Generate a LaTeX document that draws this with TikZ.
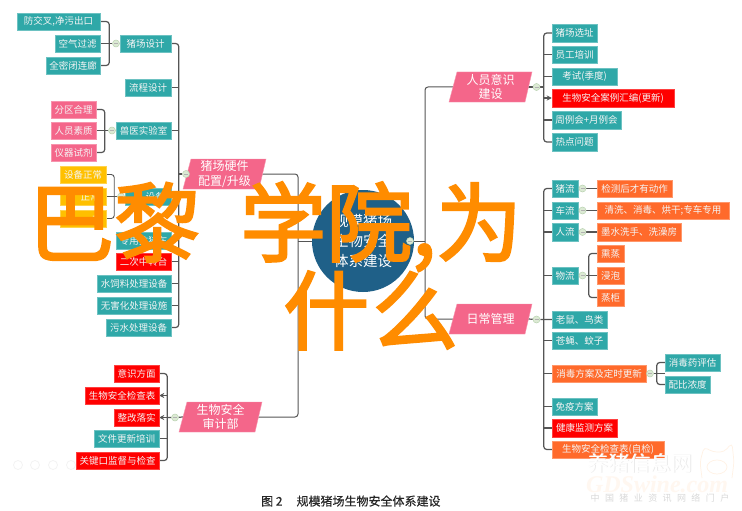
\documentclass[tikz,border=0pt]{standalone}
\usepackage{fontspec}
\setmainfont{Noto Sans CJK SC}
\newfontfamily\bigcjk{Noto Sans CJK SC}[FakeBold=2.5]
\newfontfamily\capcjk{Noto Sans CJK SC}[FakeBold=0.3]
\newfontfamily\wmlatin{Liberation Serif}
\usetikzlibrary{arrows.meta}
\definecolor{tealc}{HTML}{2FA8A8}
\definecolor{pinkc}{HTML}{F4668A}
\definecolor{yelc}{HTML}{FFC000}
\definecolor{redc}{HTML}{FF0000}
\definecolor{oranc}{HTML}{FF6A2B}
\definecolor{navyc}{HTML}{1F6088}
\definecolor{linec}{HTML}{555555}
\definecolor{bigc}{HTML}{FF8C00}
\definecolor{dotfill}{HTML}{DCEAD4}
\definecolor{dotedge}{HTML}{B9D2B0}
\pgfdeclarelayer{bg}
\pgfsetlayers{bg,main}
\tikzset{
  boxbase/.style={inner sep=0pt,font=\fontsize{9.5}{11}\selectfont,text=white!92!gray,line width=0.5pt},
  tealbox/.style={boxbase,fill=tealc,draw=tealc!70!white},
  pinkbox/.style={boxbase,fill=pinkc,draw=pinkc!70!white},
  yelbox/.style={boxbase,fill=yelc,draw=yelc!70!white},
  redbox/.style={boxbase,fill=redc,draw=redc!75!white},
  oranbox/.style={boxbase,fill=oranc,draw=oranc!70!white},
  conn/.style={draw=linec,line width=1.2pt,rounded corners=3pt},
  arrowconn/.style={conn,-{Stealth[length=5pt,width=5pt]}},
  dotnode/.style={circle,minimum size=7pt,inner sep=0pt,fill=dotfill,draw=dotedge,line width=0.5pt,
    path picture={\draw[linec!45!white,line width=0.4pt] (path picture bounding box.west)++(1.5pt,0)--++(4pt,0);}},
  paralabel/.style={inner sep=0pt,minimum width=75pt,minimum height=30pt,align=center,text=white,font=\fontsize{12}{14.5}\selectfont},
  bigtext/.style={inner sep=0pt,text=bigc,font=\bigcjk\fontsize{86}{86}\selectfont},
}
\newcommand\bx[7]{\node[#6,minimum width={(#4-#2)*1pt},minimum height={(#5-#3)*1pt}] (#1) at ({(#2+#4)/2},{(#3+#5)/2}) {#7};}
\newcommand\para[5]{% name, top, bottom, left(bottom-left x), text
  \fill[pinkc,draw=pinkc!70!white,line width=0.4pt] (#4,#3) -- ({#4+8},#2) -- ({#4+83},#2) -- ({#4+76},#3) -- cycle;
  \node[paralabel] (#1) at ({#4+41.5},{(#2+#3)/2}) {#5};}
\begin{document}
\begin{tikzpicture}[x=1pt,y=-1pt]
\useasboundingbox (0,0) rectangle (742,511);
\begin{pgfonlayer}{bg}
\fill[white] (0,0) rectangle (742,511);
\end{pgfonlayer}
% centre
\node[circle,fill=navyc,minimum size=102pt,inner sep=0pt,text=white,align=center,font=\fontsize{14.5}{20}\selectfont] (core) at (363,241) {规模猪场\\生物安全\\体系建设};
\node[dotnode] (coredot) at (410,241) {};
\coordinate (lt) at (298,241);
\coordinate (rt) at (425,241);
% left upper
\bx{a1}{17}{13}{100}{30}{tealbox}{防交叉,净污出口}
\bx{a2}{55}{35}{100}{52}{tealbox}{空气过滤}
\bx{a3}{46}{57}{100}{74}{tealbox}{全密闭连廊}
\bx{f1}{120}{35}{171}{52}{tealbox}{猪场设计}
\node[dotnode] (da) at (116,43.5) {};
\bx{f2}{125}{79}{171}{96}{tealbox}{流程设计}
\bx{b1}{51}{101}{96}{118}{pinkbox}{分区合理}
\bx{b2}{51}{122}{96}{139}{pinkbox}{人员素质}
\bx{b3}{51}{144}{96}{161}{pinkbox}{仪器试剂}
\bx{f3}{116}{122}{171}{139}{tealbox}{兽医实验室}
\node[dotnode] (db) at (112,130.5) {};
\bx{c1}{60}{166}{106}{183}{yelbox}{设备正常}
\bx{c2}{60}{188}{106}{205}{yelbox}{\hspace{14pt}正常}
\bx{c3}{60}{210}{106}{227}{yelbox}{\hspace{28pt}式}
\bx{f4}{125}{188}{171}{205}{tealbox}{\hspace{14pt}设备}
\node[dotnode] (dc) at (121,196.5) {};
\bx{f5}{116}{232}{171}{249}{tealbox}{专用拉猪车}
\bx{f6}{116}{253}{171}{270}{redbox}{二次中转台}
\bx{f7}{97}{275}{171}{292}{tealbox}{水饲料处理设备}
\bx{f8}{97}{297}{171}{314}{tealbox}{无害化处理设施}
\bx{f9}{106}{319}{171}{336}{tealbox}{污水处理设备}
\para{hard}{159}{189}{183}{猪场硬件\\配置/升级}
\node[dotnode] (dh) at (186,174) {};
\coordinate (ltrunk) at (178.5,174);
% left lower
\bx{e1}{114}{365}{159}{382}{redbox}{意识方面}
\bx{e2}{85}{387}{159}{404}{redbox}{生物安全检查表}
\bx{e3}{114}{409}{159}{426}{redbox}{整改落实}
\bx{e4}{94}{430}{159}{447}{tealbox}{文件更新培训}
\bx{e5}{76}{452}{159}{469}{redbox}{关键口监督与检查}
\para{audit}{402}{432}{179}{生物安全\\审计部}
\node[dotnode] (de) at (175,417.5) {};
\coordinate (etrunk) at (167,417.5);
% right upper
\para{person}{72}{102}{449}{人员意识\\建设}
\node[dotnode] (dp) at (536.5,87) {};
\coordinate (ptrunk) at (544,87);
\bx{p1}{552}{24}{597}{42}{tealbox}{猪场选址}
\bx{p2}{552}{46}{597}{63}{tealbox}{员工培训}
\bx{p3}{552}{68}{617}{85}{tealbox}{考试(季度)}
\bx{p4}{552}{89}{674}{107}{redbox}{生物安全案例汇编(更新)}
\bx{p5}{552}{111}{621}{129}{tealbox}{周例会+月例会}
\bx{p6}{552}{133}{597}{151}{tealbox}{热点问题}
% right lower
\para{daily}{304}{334}{449}{日常管理}
\node[dotnode] (dd) at (536.5,319.5) {};
\bx{m1}{552}{180}{578}{197}{tealbox}{猪流}
\bx{m2}{552}{202}{578}{219}{tealbox}{车流}
\bx{m3}{552}{223}{578}{241}{tealbox}{人流}
\bx{m4}{552}{267}{578}{284}{tealbox}{物流}
\node[dotnode] (d1) at (582.5,188.5) {};
\node[dotnode] (d2) at (582.5,210.5) {};
\node[dotnode] (d3) at (582.5,232) {};
\node[dotnode] (d4) at (582.5,275.5) {};
\bx{n1}{597}{180}{672}{197}{oranbox}{检测后才有动作}
\bx{n2}{597}{202}{729}{219}{oranbox}{清洗、消毒、烘干;专车专用}
\bx{n3}{597}{223}{681}{241}{oranbox}{墨水洗手、洗澡房}
\bx{w1}{597}{245}{624}{262}{oranbox}{熏蒸}
\bx{w2}{597}{267}{624}{284}{oranbox}{浸泡}
\bx{w3}{597}{289}{624}{306}{oranbox}{蒸柜}
\bx{m5}{552}{311}{607}{328}{tealbox}{老鼠、鸟类}
\bx{m6}{552}{332}{607}{349}{tealbox}{苍蝇、蚊子}
\bx{m7}{552}{365}{646}{382}{oranbox}{消毒方案及定时更新}
\node[dotnode] (d7) at (650,373.5) {};
\bx{s1}{665}{354}{720}{371}{tealbox}{消毒药评估}
\bx{s2}{665}{376}{710}{393}{tealbox}{配比浓度}
\bx{m8}{552}{398}{597}{415}{tealbox}{免疫方案}
\bx{m9}{552}{419}{617}{437}{redbox}{健康监测方案}
\bx{m10}{552}{441}{664}{458}{oranbox}{生物安全检查表(自检)}
% connectors
\begin{pgfonlayer}{bg}
\draw[conn] (a1.east) -- +(9,0) |- (a3.east);
\draw[conn] (a2.east) -- (da) -- (f1.west);
\draw[conn] (b1.east) -- +(8.5,0) |- (b3.east);
\draw[conn] (b2.east) -- (db) -- (f3.west);
\draw[conn,line width=0.9pt] (c1.east) -- +(8,0) |- (c3.east);
\draw[conn,line width=0.9pt] (c2.east) -- (dc) -- (f4.west);
\draw[conn] (f1.east) -- +(7.5,0) |- (f9.east);
\foreach \k in {f2,f3,f4,f5,f6,f7,f8}{\draw[conn] (\k.east) -- +(7.5,0);}
\draw[conn] (dh) -- (ltrunk);
\draw[conn] (dh) -- (hard.west);
\draw[conn] (e1.east) -- +(8,0) |- (e5.east);
\draw[arrowconn] (etrunk |- e2.east) -- (e2.east);
\draw[arrowconn] (etrunk) -- (e3.east);
\draw[conn] (etrunk |- e4.east) -- (e4.east);
\draw[conn] (etrunk) -- (de) -- (audit.west);
\draw[conn,line width=1pt] (hard.east) -| (lt) |- (audit.east);
\draw[conn,line width=1pt] (core.west) -- (lt);
\draw[conn,line width=1pt] (person.west) -| (rt) |- (daily.west);
\draw[conn,line width=1pt] (core.east) -- (rt);
\draw[conn] (person.east) -- (dp) -- (ptrunk);
\draw[conn] (p1.west) -- +(-8,0) |- (p6.west);
\foreach \k in {p2,p3,p5}{\draw[conn] (\k.west) -- +(-8,0);}
\draw[arrowconn] (ptrunk |- p4.west) -- (p4.west);
\draw[conn] (m1.west) -- +(-8,0) |- (m10.west);
\foreach \k in {m2,m3,m4,m5,m6,m7,m8,m9}{\draw[conn] (\k.west) -- +(-8,0);}
\draw[conn] (daily.east) -- (dd) -- (m5.west);
\draw[conn] (m1.east) -- (d1) -- (n1.west);
\draw[conn] (m2.east) -- (d2) -- (n2.west);
\draw[conn] (m3.east) -- (d3) -- (n3.west);
\draw[conn] (m4.east) -- (d4) -- (w2.west);
\draw[conn] (w1.west) -- +(-8,0) |- (w3.west);
\draw[conn] (m7.east) -- (d7) -- +(15,0);
\draw[conn] (s1.west) -- +(-8,0) |- (s2.west);
\end{pgfonlayer}
% faint viewer icons
\foreach \ix/\nm in {18/i1,35/i2,53/i3,71/i4}{\node[circle,draw=black!5,line width=0.7pt,minimum size=9pt,inner sep=0pt] (\nm) at (\ix,465) {};}
% watermark
\node[inner sep=0pt,text=black!8,font=\fontsize{21}{21}\selectfont] (wm0) at (640.5,463.5) {养猪信息网};
\node[inner sep=0pt,text=white,font=\fontsize{21}{21}\selectfont] (wm1) at (640,463) {养猪信息网};
\node[inner sep=0pt,text=orange!6,font=\wmlatin\bfseries\itshape\fontsize{24}{24}\selectfont] (wm2) at (657,484) {GDSwine.com};
\node[inner sep=0pt,text=black!15,font=\fontsize{9}{9}\selectfont] (wm3) at (660,498) {中\hspace{5.4pt}国\hspace{5.4pt}猪\hspace{5.4pt}业\hspace{5.4pt}资\hspace{5.4pt}讯\hspace{5.4pt}网\hspace{5.4pt}络\hspace{5.4pt}门\hspace{5.4pt}户};
\draw[orange!10,line width=0.7pt,rounded corners=4pt] (702,478) -- (700,462) -- (704,447) -- (713,452) -- (724,452) -- (732,443) -- (734,462) -- (732,478);
\draw[orange!10,line width=0.7pt] (717,467) ellipse[x radius=10,y radius=7];
% caption
\node[inner sep=0pt,anchor=west,text=black!85,font=\capcjk\fontsize{12}{12}\selectfont] (cap) at (261,501) {图 2\hspace{14pt}规模猪场生物安全体系建设};
% overlay
\node[bigtext,anchor=base west] (big1) at (28,255) {巴黎\hspace{40pt}学院,为};
\node[bigtext,anchor=base west] (big2) at (283,343) {什\hspace{3pt}么};
\end{tikzpicture}
\end{document}
